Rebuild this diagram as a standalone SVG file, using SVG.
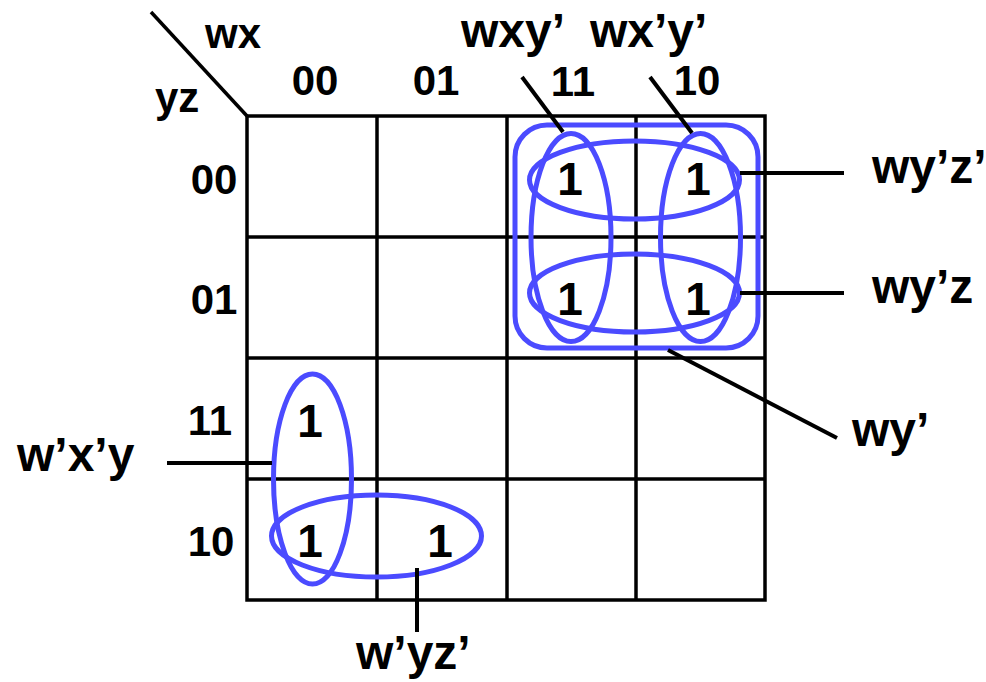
<svg xmlns="http://www.w3.org/2000/svg" width="986" height="682" viewBox="0 0 986 682">
<style>
.t{font-family:"Liberation Sans",Arial,sans-serif;font-weight:bold;font-size:42px;fill:#000}
.lb{font-family:"Liberation Sans",Arial,sans-serif;font-weight:bold;font-size:48px;fill:#000}
.one{font-family:"Liberation Sans",Arial,sans-serif;font-weight:bold;font-size:46px;fill:#000;text-anchor:middle}
.hd{text-anchor:middle}
.grid{stroke:#000;stroke-width:3.5;fill:none}
.loop{stroke:#4B4BFF;stroke-width:5;fill:none}
.lead{stroke:#000;stroke-width:4;fill:none}
</style>
<rect width="986" height="682" fill="#fff"/>
<g id="map-grid">
<line class="grid" x1="151" y1="12" x2="247" y2="116"/>
<rect class="grid" x="247" y="116" width="518" height="484"/>
<line class="grid" x1="377" y1="116" x2="377" y2="600"/>
<line class="grid" x1="507" y1="116" x2="507" y2="600"/>
<line class="grid" x1="636" y1="116" x2="636" y2="600"/>
<line class="grid" x1="247" y1="237" x2="765" y2="237"/>
<line class="grid" x1="247" y1="358" x2="765" y2="358"/>
<line class="grid" x1="247" y1="479" x2="765" y2="479"/>
</g>
<g id="axis-labels">
<text class="t" x="205" y="48">wx</text>
<text class="t" x="155" y="112">yz</text>
<text class="t hd" x="315" y="95">00</text>
<text class="t hd" x="436" y="95">01</text>
<text class="t hd" x="573" y="96">11</text>
<text class="t hd" x="697" y="95">10</text>
<text class="t hd" x="214" y="194">00</text>
<text class="t hd" x="214" y="314">01</text>
<text class="t hd" x="210" y="435">11</text>
<text class="t hd" x="211" y="556">10</text>
</g>
<g id="cells">
<text class="one" x="570" y="195">1</text>
<text class="one" x="698" y="195">1</text>
<text class="one" x="570" y="315">1</text>
<text class="one" x="698" y="315">1</text>
<text class="one" x="310" y="437">1</text>
<text class="one" x="310" y="557">1</text>
<text class="one" x="440" y="557">1</text>
</g>
<g id="group-wy">
<rect class="loop" x="515" y="125" width="243" height="223" rx="32"/>
</g>
<g id="group-wxy">
<ellipse class="loop" cx="571" cy="237.5" rx="40" ry="104"/>
</g>
<g id="group-wx-y">
<ellipse class="loop" cx="700.5" cy="237.5" rx="40" ry="104"/>
</g>
<g id="group-wy-z-">
<ellipse class="loop" cx="634.5" cy="180" rx="105" ry="39"/>
</g>
<g id="group-wy-z">
<ellipse class="loop" cx="634.5" cy="293" rx="105" ry="39"/>
</g>
<g id="group-w-x-y">
<ellipse class="loop" cx="312.5" cy="479" rx="39" ry="105"/>
</g>
<g id="group-w-yz-">
<ellipse class="loop" cx="376.5" cy="536" rx="105" ry="41"/>
</g>
<g id="connectors">
<line class="lead" x1="522" y1="77" x2="563" y2="132"/>
<line class="lead" x1="650" y1="77" x2="692" y2="133"/>
<line class="lead" x1="740" y1="173" x2="844" y2="173"/>
<line class="lead" x1="740" y1="293" x2="844" y2="293"/>
<line class="lead" x1="668" y1="350" x2="837" y2="438"/>
<line class="lead" x1="167" y1="463" x2="272" y2="463"/>
<line class="lead" x1="417" y1="568" x2="417" y2="632"/>
</g>
<g id="term-labels">
<text class="lb" x="461" y="47">wxy’</text>
<text class="lb" x="590" y="47">wx’y’</text>
<text class="lb" x="872" y="183">wy’z’</text>
<text class="lb" x="872" y="303">wy’z</text>
<text class="lb" x="852" y="446">wy’</text>
<text class="lb" x="17" y="471">w’x’y</text>
<text class="lb" x="356" y="669">w’yz’</text>
</g>
</svg>
